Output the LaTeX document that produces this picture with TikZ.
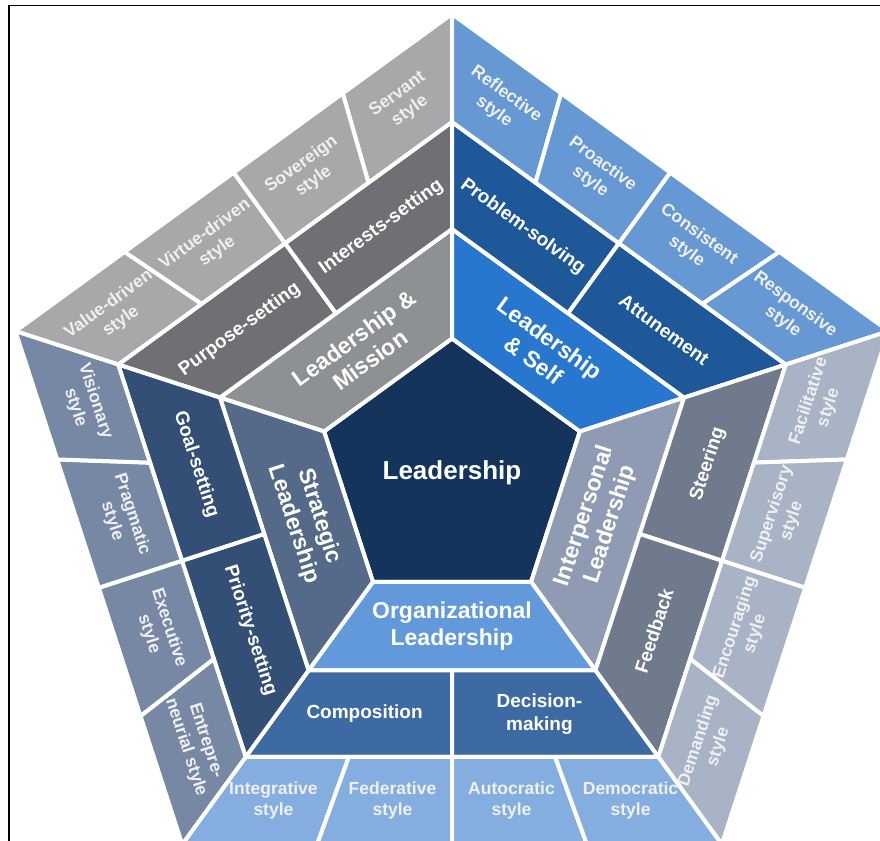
\documentclass[tikz,border=0pt]{standalone}
\usepackage{fontspec}
\setmainfont{Liberation Sans}
\usetikzlibrary{calc}

\definecolor{navycore}{HTML}{14345C}
\definecolor{missionIn}{HTML}{8E9194}
\definecolor{missionMid}{HTML}{6F7073}
\definecolor{missionOut}{HTML}{A7A8AA}
\definecolor{selfIn}{HTML}{2777CE}
\definecolor{selfMid}{HTML}{1F5899}
\definecolor{selfOut}{HTML}{6699D3}
\definecolor{interIn}{HTML}{8F9BB2}
\definecolor{interMid}{HTML}{6F7A8D}
\definecolor{interOut}{HTML}{A9B3C6}
\definecolor{orgIn}{HTML}{6199DB}
\definecolor{orgMid}{HTML}{3D6AA2}
\definecolor{orgOut}{HTML}{84AEE0}
\definecolor{stratIn}{HTML}{556988}
\definecolor{stratMid}{HTML}{344F76}
\definecolor{stratOut}{HTML}{7788A5}

\begin{document}
\begin{tikzpicture}[x=1pt, y=1pt,
    ring_piece/.style={draw=white, line width=4pt, line join=round},
    core_text/.style={text=white, font=\bfseries\fontsize{26}{30}\selectfont},
    ring1_text/.style={text=white, align=center, font=\bfseries\fontsize{23}{27}\selectfont},
    ring2_text/.style={text=white, align=center, font=\bfseries\fontsize{19}{23}\selectfont},
    ring3_text/.style={text=white!94!black, align=center, font=\bfseries\fontsize{17.5}{21}\selectfont}]
    \useasboundingbox (-452,-367) rectangle (428,473);
    \clip (-452,-367) rectangle (428,473);
    \draw[line width=1.5pt] (-443,-400) rectangle (460,467.5);

    % pentagon corners, ring by ring (b = borders, m = middle of a ring)
    \foreach \r/\nm in {134.5/b0, 244/b1, 351/b2, 459/b3, 189.25/m1, 297.5/m2, 405/m3}
        \foreach \j/\ang in {1/90, 2/162, 3/234, 4/306, 5/18}
            \coordinate (\nm\j) at (\ang:\r);

    % core and first ring
    \path[ring_piece, fill=navycore] (b01) -- (b02) -- (b03) -- (b04) -- (b05) -- cycle;
    \path[ring_piece, fill=missionIn] (b02) -- (b01) -- (b11) -- (b12) -- cycle;
    \path[ring_piece, fill=selfIn] (b01) -- (b05) -- (b15) -- (b11) -- cycle;
    \path[ring_piece, fill=interIn] (b05) -- (b04) -- (b14) -- (b15) -- cycle;
    \path[ring_piece, fill=orgIn] (b03) -- (b04) -- (b14) -- (b13) -- cycle;
    \path[ring_piece, fill=stratIn] (b03) -- (b02) -- (b12) -- (b13) -- cycle;

    % second ring: two pieces per side
    \foreach \s/\e/\col in {2/1/missionMid, 1/5/selfMid, 5/4/interMid, 3/4/orgMid, 3/2/stratMid}
        \foreach \t in {0, 0.5}
            \path[ring_piece, fill=\col] ($(b1\s)!\t!(b1\e)$) -- ($(b1\s)!\t+0.5!(b1\e)$)
                -- ($(b2\s)!\t+0.5!(b2\e)$) -- ($(b2\s)!\t!(b2\e)$) -- cycle;

    % third ring: four pieces per side
    \foreach \s/\e/\col in {2/1/missionOut, 1/5/selfOut, 5/4/interOut, 3/4/orgOut, 3/2/stratOut}
        \foreach \t in {0, 0.25, 0.5, 0.75}
            \path[ring_piece, fill=\col] ($(b2\s)!\t!(b2\e)$) -- ($(b2\s)!\t+0.25!(b2\e)$)
                -- ($(b3\s)!\t+0.25!(b3\e)$) -- ($(b3\s)!\t!(b3\e)$) -- cycle;

    % labels
    \node[core_text] (leadership) at (0,0) {Leadership};
    \node[ring1_text, rotate=36] (mission) at ($(m12)!.5!(m11)$) {Leadership \&\\Mission};
    \node[ring1_text, rotate=-36] (self) at ($(m11)!.5!(m15)$) {Leadership\\\& Self};
    \node[ring1_text, rotate=72] (interpersonal) at ($(m15)!.5!(m14)$) {Interpersonal\\Leadership};
    \node[ring1_text] (organizational) at ($(m13)!.5!(m14)$) {Organizational\\Leadership};
    \node[ring1_text, rotate=-72] (strategic) at ($(m13)!.5!(m12)$) {Strategic\\Leadership};

    \node[ring2_text, rotate=36] (purpose) at ($(m22)!.25!(m21)$) {Purpose-setting};
    \node[ring2_text, rotate=36] (interests) at ($(m22)!.75!(m21)$) {Interests-setting};
    \node[ring2_text, rotate=-36] (problem) at ($(m21)!.25!(m25)$) {Problem-solving};
    \node[ring2_text, rotate=-36] (attunement) at ($(m21)!.75!(m25)$) {Attunement};
    \node[ring2_text, rotate=72] (steering) at ($(m25)!.25!(m24)$) {Steering};
    \node[ring2_text, rotate=72] (feedback) at ($(m25)!.75!(m24)$) {Feedback};
    \node[ring2_text] (composition) at ($(m23)!.25!(m24)$) {Composition};
    \node[ring2_text] (decision) at ($(m23)!.75!(m24)$) {Decision-\\making};
    \node[ring2_text, rotate=-72] (priority) at ($(m23)!.25!(m22)$) {Priority-setting};
    \node[ring2_text, rotate=-72] (goal) at ($(m23)!.75!(m22)$) {Goal-setting};

    \node[ring3_text, rotate=36] (valuedriven) at ($(m32)!.125!(m31)$) {Value-driven\\style};
    \node[ring3_text, rotate=36] (virtuedriven) at ($(m32)!.375!(m31)$) {Virtue-driven\\style};
    \node[ring3_text, rotate=36] (sovereign) at ($(m32)!.625!(m31)$) {Sovereign\\style};
    \node[ring3_text, rotate=36] (servant) at ($(m32)!.875!(m31)$) {Servant\\style};
    \node[ring3_text, rotate=-36] (reflective) at ($(m31)!.125!(m35)$) {Reflective\\style};
    \node[ring3_text, rotate=-36] (proactive) at ($(m31)!.375!(m35)$) {Proactive\\style};
    \node[ring3_text, rotate=-36] (consistent) at ($(m31)!.625!(m35)$) {Consistent\\style};
    \node[ring3_text, rotate=-36] (responsive) at ($(m31)!.875!(m35)$) {Responsive\\style};
    \node[ring3_text, rotate=72] (facilitative) at ($(m35)!.125!(m34)$) {Facilitative\\style};
    \node[ring3_text, rotate=72] (supervisory) at ($(m35)!.375!(m34)$) {Supervisory\\style};
    \node[ring3_text, rotate=72] (encouraging) at ($(m35)!.625!(m34)$) {Encouraging\\style};
    \node[ring3_text, rotate=72] (demanding) at ($(m35)!.875!(m34)$) {Demanding\\style};
    \node[ring3_text] (integrative) at ($(m33)!.125!(m34)$) {Integrative\\style};
    \node[ring3_text] (federative) at ($(m33)!.375!(m34)$) {Federative\\style};
    \node[ring3_text] (autocratic) at ($(m33)!.625!(m34)$) {Autocratic\\style};
    \node[ring3_text] (democratic) at ($(m33)!.875!(m34)$) {Democratic\\style};
    \node[ring3_text, rotate=-72] (entrepreneurial) at ($(m33)!.125!(m32)$) {Entrepre-\\neurial style};
    \node[ring3_text, rotate=-72] (executive) at ($(m33)!.375!(m32)$) {Executive\\style};
    \node[ring3_text, rotate=-72] (pragmatic) at ($(m33)!.625!(m32)$) {Pragmatic\\style};
    \node[ring3_text, rotate=-72] (visionary) at ($(m33)!.875!(m32)$) {Visionary\\style};
\end{tikzpicture}
\end{document}
